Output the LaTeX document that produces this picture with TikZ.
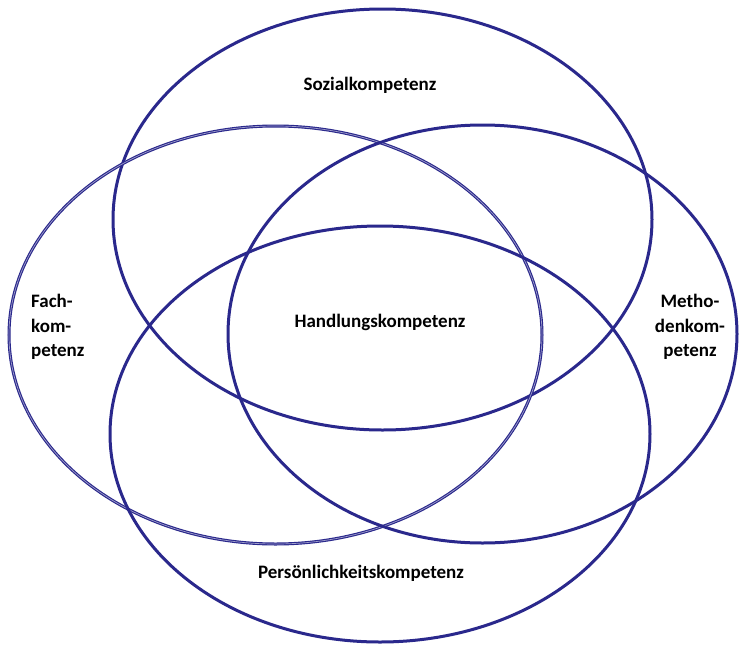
\documentclass[tikz,border=0pt]{standalone}
\usepackage{fontspec}
\setmainfont{Carlito}
\definecolor{ring}{RGB}{42,40,140}
\tikzset{
  ringline/.style={draw=ring, line width=3pt},
  label/.style={font=\bfseries\fontsize{19}{24.5}\selectfont, text=black, inner sep=0pt, align=center}
}
\begin{document}
\begin{tikzpicture}[x=1pt,y=-1pt]
\useasboundingbox (0,0) rectangle (739,645);
\fill[white] (0,0) rectangle (739,645);
% ellipses
\draw[ringline] (382.5,219.5) ellipse [x radius=269.5, y radius=210.5];
\draw[ringline] (275.5,335) ellipse [x radius=266.5, y radius=209];
\draw[draw=ring!45!white, line width=0.7pt] (275.5,335) ellipse [x radius=266.5, y radius=209];
\draw[ringline] (482.5,334) ellipse [x radius=254.5, y radius=209];
\draw[ringline] (380,434) ellipse [x radius=270, y radius=208];
% labels
\node[label] (sozial) at (370,85) {Sozialkompetenz};
\node[label] (handlung) at (380,322) {Handlungskompetenz};
\node[label] (pers) at (361,573) {Persönlichkeitskompetenz};
\node[label, align=left, anchor=west] (fach) at (31,327) {Fach-\\kom-\\petenz};
\node[label] (methode) at (690,327) {Metho-\\denkom-\\petenz};
\end{tikzpicture}
\end{document}
